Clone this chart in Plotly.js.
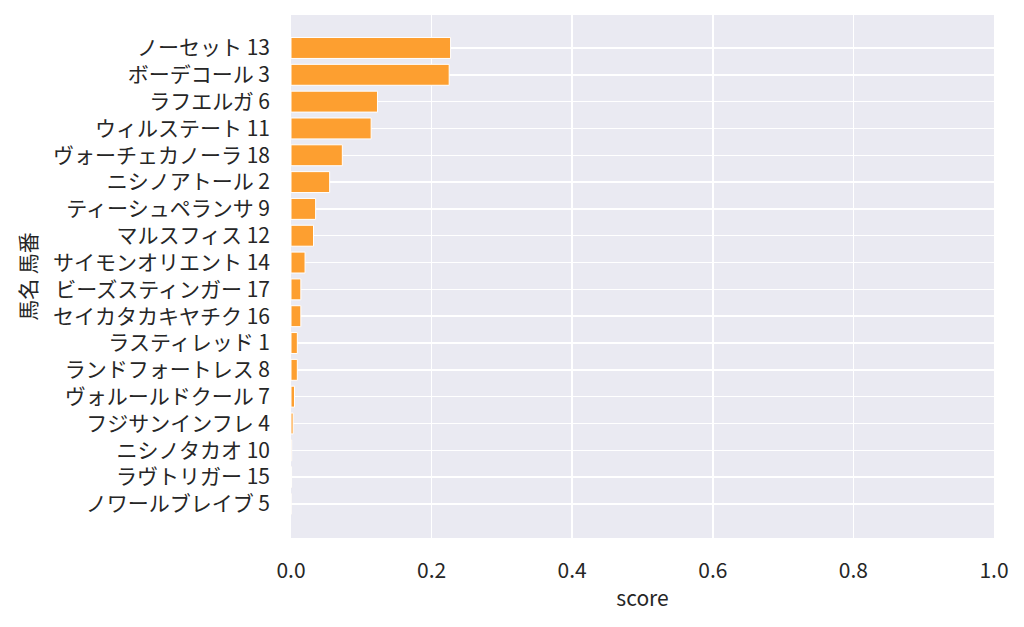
<!DOCTYPE html>
<html>
<head>
<meta charset="utf-8">
<script src="https://cdn.plot.ly/plotly-3.0.1.min.js"></script>
<style>html,body{margin:0;padding:0;background:#fff;}#chart{width:1024px;height:627px;}</style>
</head>
<body>
<div id="chart"></div>
<script>
const horseNames = [
  "ノーセット 13", "ボーデコール 3", "ラフエルガ 6", "ウィルステート 11",
  "ヴォーチェカノーラ 18", "ニシノアトール 2", "ティーシュペランサ 9", "マルスフィス 12",
  "サイモンオリエント 14", "ビーズスティンガー 17", "セイカタカキヤチク 16", "ラスティレッド 1",
  "ランドフォートレス 8", "ヴォルールドクール 7", "フジサンインフレ 4", "ニシノタカオ 10",
  "ラヴトリガー 15", "ノワールブレイブ 5"
];
const scores = [
  0.227, 0.225, 0.123, 0.114,
  0.073, 0.055, 0.035, 0.032,
  0.020, 0.014, 0.014, 0.009,
  0.009, 0.005, 0.003, 0.001,
  0.0008, 0.0002
];
const xTicks = [0, 0.2, 0.4, 0.6, 0.8, 1.0];
const xTickLabels = ["0.0", "0.2", "0.4", "0.6", "0.8", "1.0"];

const FONT = "'Noto Sans CJK JP', 'Noto Sans', sans-serif";
const FS = 21;
const trace = {
  type: "bar",
  orientation: "h",
  x: scores,
  y: horseNames,
  marker: {color: "rgb(253,159,48)", line: {color: "#ffffff", width: 1}},
  hoverinfo: "x+y"
};
const layout = {
  width: 1024, height: 627,
  margin: {l: 291, r: 30, t: 15, b: 89},
  paper_bgcolor: "#ffffff",
  plot_bgcolor: "#EAEAF2",
  bargap: 0.22,
  showlegend: false,
  font: {family: FONT, size: FS, color: "#262626"},
  xaxis: {
    range: [0, 1.0],
    tickvals: xTicks, ticktext: xTickLabels,
    showgrid: true, gridcolor: "#ffffff", gridwidth: 1.5,
    zeroline: false, showline: false, ticks: "",
    ticklabelstandoff: 18,
    tickfont: {family: FONT, size: FS, color: "#262626"},
    title: {text: "score", font: {family: FONT, size: FS, color: "#262626"}, standoff: 8}
  },
  yaxis: {
    type: "category",
    categoryorder: "array", categoryarray: horseNames,
    range: [horseNames.length - 1 + 1.27, -1.23],
    showgrid: true, gridcolor: "#ffffff", gridwidth: 1.5,
    zeroline: false, showline: false, ticks: "",
    ticklabelstandoff: 20,
    tickfont: {family: FONT, size: FS, color: "#262626"},
    title: {text: "馬名 馬番", font: {family: FONT, size: FS, color: "#262626"}, standoff: 10}
  }
};
Plotly.newPlot("chart", [trace], layout, {displayModeBar: false, staticPlot: true});
</script>
</body>
</html>
